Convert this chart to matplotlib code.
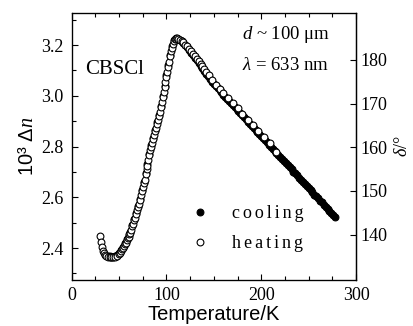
import matplotlib
matplotlib.use("Agg")
import matplotlib.pyplot as plt
from matplotlib.ticker import MultipleLocator

plt.rcParams['mathtext.fontset'] = 'custom'
plt.rcParams['mathtext.rm'] = 'Liberation Sans'
plt.rcParams['mathtext.it'] = 'Liberation Serif:italic'

# ---- data: heating (open circles) ----
T_heat = [30, 31, 32, 33, 34, 35, 36, 38, 40, 42, 44, 46, 48, 50, 51, 52, 53, 54, 55, 56,
          57, 58, 59, 60, 61, 62, 63, 64, 65, 66, 67, 68, 69, 70, 71, 72, 73, 74, 75, 76,
          77, 78, 79, 80, 81, 82, 83, 84, 85, 86, 87, 88, 89, 90, 91, 92, 93, 94, 95, 96,
          97, 98, 99, 100, 101, 102, 103, 104, 105, 106, 107, 108, 109, 110, 111, 112,
          114, 116, 118, 120, 122, 124, 126, 128, 130, 132, 134, 136, 138, 140, 142, 145,
          148, 152, 156, 160, 165, 170, 175, 180, 186, 191, 197, 203, 209, 216]
dn_heat = [2.447, 2.425, 2.405, 2.390, 2.380, 2.374, 2.370, 2.366, 2.364, 2.365, 2.366, 2.366,
           2.370, 2.375, 2.380, 2.390, 2.395, 2.400, 2.410, 2.415, 2.420, 2.430, 2.440, 2.445,
           2.455, 2.460, 2.470, 2.485, 2.495, 2.510, 2.520, 2.535, 2.550, 2.560, 2.575, 2.590,
           2.610, 2.625, 2.640, 2.655, 2.670, 2.690, 2.710, 2.725, 2.745, 2.765, 2.785, 2.800,
           2.815, 2.830, 2.845, 2.860, 2.875, 2.890, 2.905, 2.920, 2.935, 2.955, 2.975, 2.995,
           3.015, 3.035, 3.055, 3.075, 3.095, 3.115, 3.135, 3.155, 3.175, 3.190, 3.205, 3.215,
           3.222, 3.225, 3.226, 3.224, 3.220, 3.215, 3.210, 3.202, 3.195, 3.185, 3.176, 3.166,
           3.156, 3.146, 3.136, 3.126, 3.116, 3.106, 3.095, 3.080, 3.064, 3.044, 3.027, 3.010,
           2.990, 2.970, 2.950, 2.930, 2.905, 2.885, 2.860, 2.836, 2.812, 2.780]

# ---- data: cooling (filled circles) ----
T_cool = [278, 276, 274, 272, 270, 268, 266, 264, 262, 260, 258, 256, 254, 252, 250, 248,
          246, 244, 242, 240, 238, 236, 234, 232, 230, 228, 226, 224, 222, 220, 218, 216,
          214, 212, 210, 208, 206, 204, 202, 200, 198, 196, 194, 192, 190, 188, 186, 184,
          182, 180, 178, 176, 174, 172, 170, 168, 166, 164, 162, 160, 158, 156, 154, 152,
          150, 148, 146, 144, 142, 140, 138, 136, 134, 132, 130, 128, 126, 124, 122, 120,
          118, 116, 114, 112, 110, 108, 106, 104, 102, 100, 98, 96, 94, 92, 90, 88, 86, 84,
          82, 80, 78, 76, 74, 72, 70, 68, 66, 64, 62, 60, 58, 56, 54, 52, 50, 48, 46, 44,
          42, 40, 38]
dn_cool = [2.521, 2.530, 2.538, 2.546, 2.555, 2.562, 2.571, 2.580, 2.587, 2.596, 2.604, 2.611,
           2.620, 2.628, 2.637, 2.645, 2.652, 2.661, 2.669, 2.677, 2.686, 2.694, 2.701, 2.710,
           2.718, 2.726, 2.734, 2.743, 2.751, 2.759, 2.767, 2.775, 2.784, 2.792, 2.800, 2.808,
           2.816, 2.825, 2.832, 2.841, 2.849, 2.857, 2.866, 2.874, 2.882, 2.890, 2.898, 2.907,
           2.915, 2.923, 2.931, 2.939, 2.948, 2.956, 2.964, 2.972, 2.980, 2.989, 2.997, 3.005,
           3.013, 3.021, 3.030, 3.038, 3.046, 3.056, 3.066, 3.077, 3.087, 3.097, 3.108, 3.118,
           3.129, 3.139, 3.150, 3.160, 3.170, 3.181, 3.191, 3.199, 3.207, 3.214, 3.220, 3.224,
           3.226, 3.218, 3.195, 3.160, 3.120, 3.080, 3.040, 3.000, 2.960, 2.925, 2.895, 2.865,
           2.835, 2.805, 2.770, 2.730, 2.695, 2.660, 2.630, 2.595, 2.565, 2.540, 2.515, 2.490,
           2.465, 2.450, 2.435, 2.420, 2.405, 2.392, 2.380, 2.372, 2.368, 2.366, 2.366, 2.367,
           2.370]

series_labels = ["\u2006".join("cooling"), "\u2006".join("heating")]
x_ticks = [0, 100, 200, 300]
y_ticks = [2.4, 2.6, 2.8, 3.0, 3.2]
r_ticks = [140, 150, 160, 170, 180]

fig = plt.figure(figsize=(4.14, 3.26), dpi=100)
ax = fig.add_axes([0.173, 0.141, 0.687, 0.819])

serif = ['Liberation Serif', 'DejaVu Serif']
sans = 'Liberation Sans'

l_cool, = ax.plot(T_cool, dn_cool, 'o', ms=4.9, mfc='black', mec='black', mew=0.8,
                  linestyle='none', zorder=2)
l_heat, = ax.plot(T_heat, dn_heat, 'o', ms=4.9, mfc='white', mec='black', mew=0.8,
                  linestyle='none', zorder=3)

ax.set_xlim(0, 300)
ax.set_ylim(2.274, 3.326)
ax.set_xticks(x_ticks)
ax.set_yticks(y_ticks)
ax.xaxis.set_minor_locator(MultipleLocator(25))
ax.yaxis.set_minor_locator(MultipleLocator(0.1))
ax.tick_params(which='both', direction='in', top=True, right=False, width=0.8)
ax.tick_params(which='major', length=4, labelsize=13)
ax.tick_params(which='minor', length=3)
ax.tick_params(axis='y', pad=6)
ax.tick_params(axis='x', pad=5)
ax.set_xticklabels([str(v) for v in x_ticks], fontfamily=serif)
ax.set_yticklabels([f"{v:.1f}" for v in y_ticks], fontfamily=serif)
for s in ax.spines.values():
    s.set_linewidth(0.9)

ax2 = ax.twinx()
ax2.set_ylim(129.6, 190.75)
ax2.set_yticks(r_ticks)
ax2.set_yticklabels([str(v) for v in r_ticks], fontfamily=serif)
ax2.tick_params(direction='in', length=4, width=0.8, labelsize=13, pad=3)
ax2.spines['right'].set_linewidth(0.9)

ax.set_xlabel("Temperature/K", fontfamily=sans, fontsize=14.5, labelpad=1)
ax.set_ylabel("10³ Δ$n$", fontfamily=sans, fontsize=14.5, labelpad=3)
ax2.set_ylabel(r"$\delta$/°", fontfamily=serif, fontsize=13, labelpad=5, rotation=90)

ax.text(0.047, 0.787, "CBSCl", transform=ax.transAxes, fontfamily=serif, fontsize=15,
        va='center', ha='left')
ax.text(0.60, 0.918, r"$d$ ~ 100 μm", transform=ax.transAxes, fontfamily=serif,
        fontsize=13.5, va='center', ha='left')
ax.text(0.60, 0.805, r"$\lambda$ = 633 nm", transform=ax.transAxes, fontfamily=serif,
        fontsize=13.5, va='center', ha='left')

leg = ax.legend([l_cool, l_heat], series_labels, loc='upper left',
                bbox_to_anchor=(0.425, 0.281), frameon=False, numpoints=1,
                handlelength=0.8, handletextpad=1.4, labelspacing=0.72,
                borderpad=0, borderaxespad=0,
                prop={'family': serif, 'size': 13})

fig.savefig("out.png", dpi=100)
